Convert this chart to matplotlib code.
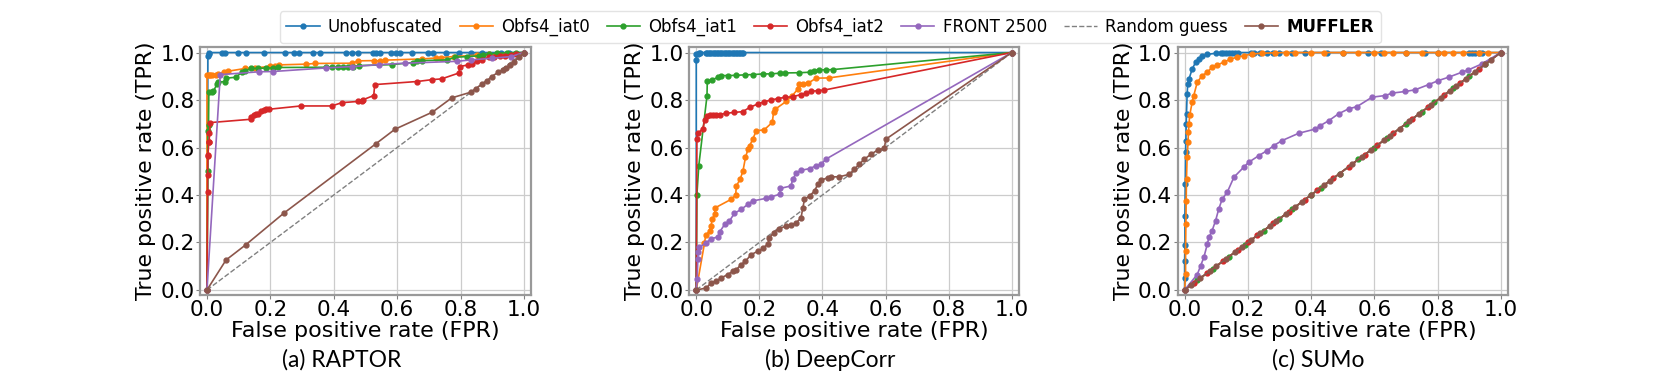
import matplotlib
matplotlib.use("Agg")
import matplotlib.pyplot as plt

# ---------------- data ----------------
labels = ["Unobfuscated", "Obfs4_iat0", "Obfs4_iat1", "Obfs4_iat2", "FRONT 2500", "Random guess", "MUFFLER"]
colors = ["#1f77b4", "#ff7f0e", "#2ca02c", "#d62728", "#9467bd", "gray", "#8c564b"]
captions = ["(a) RAPTOR", "(b) DeepCorr", "(c) SUMo"]
ticks = [0.0, 0.2, 0.4, 0.6, 0.8, 1.0]

# (a) RAPTOR
a_unobf_x = [0, 0.003, 0.005, 0.008, 0.047, 0.058, 0.098, 0.123, 0.179, 0.245, 0.275, 0.289, 0.334, 0.355, 0.437, 0.458, 0.477,
             0.524, 0.532, 0.547, 0.581, 0.595, 0.608, 0.647, 0.696, 0.713, 0.755, 0.795, 0.832, 0.868, 0.926, 0.953, 1.0]
a_unobf_y = [0, 0.985, 0.993, 1.0, 1.0, 1.0, 1.0, 1.0, 1.0, 1.0, 1.0, 1.0, 1.0, 1.0, 1.0, 1.0, 1.0,
             1.0, 1.0, 1.0, 1.0, 1.0, 1.0, 1.0, 1.0, 1.0, 1.0, 1.0, 1.0, 1.0, 1.0, 1.0, 1.0]
a_iat0_x = [0, 0, 0.005, 0.01, 0.016, 0.028, 0.035, 0.053, 0.065, 0.121, 0.153, 0.199, 0.214, 0.226, 0.311, 0.342, 0.458,
            0.476, 0.526, 0.547, 0.56, 0.679, 0.723, 0.737, 0.779, 0.853, 0.889, 0.947, 1.0]
a_iat0_y = [0, 0.906, 0.906, 0.906, 0.906, 0.906, 0.91, 0.917, 0.921, 0.933, 0.935, 0.942, 0.945, 0.948, 0.951, 0.954, 0.955,
            0.965, 0.966, 0.965, 0.968, 0.973, 0.977, 0.979, 0.983, 0.989, 0.992, 0.994, 1.0]
a_iat1_x = [0, 0.003, 0.003, 0.005, 0.006, 0.015, 0.02, 0.032, 0.034, 0.058, 0.06, 0.092, 0.111, 0.121, 0.14, 0.161, 0.186,
            0.207, 0.224, 0.376, 0.393, 0.412, 0.428, 0.445, 0.46, 0.479, 0.582, 0.649, 0.663, 0.679, 0.758, 0.782, 0.821,
            0.858, 0.871, 0.889, 0.916, 0.947, 0.974, 1.0]
a_iat1_y = [0, 0.501, 0.669, 0.694, 0.833, 0.835, 0.836, 0.868, 0.875, 0.878, 0.892, 0.896, 0.919, 0.924, 0.933, 0.933, 0.935,
            0.935, 0.937, 0.938, 0.938, 0.938, 0.938, 0.938, 0.94, 0.945, 0.949, 0.958, 0.966, 0.966, 0.969, 0.98, 0.983,
            0.986, 0.99, 0.994, 0.997, 0.999, 1.0, 1.0]
a_iat2_x = [0, 0.002, 0.002, 0.003, 0.003, 0.006, 0.007, 0.008, 0.011, 0.139, 0.139, 0.147, 0.155, 0.161, 0.172, 0.179, 0.187,
            0.195, 0.296, 0.393, 0.426, 0.477, 0.489, 0.492, 0.526, 0.529, 0.663, 0.711, 0.74, 0.795, 0.797, 0.824, 0.835,
            0.853, 0.866, 0.889, 0.905, 0.923, 0.94, 0.958, 0.974, 1.0]
a_iat2_y = [0, 0.412, 0.486, 0.563, 0.57, 0.622, 0.625, 0.662, 0.705, 0.719, 0.73, 0.739, 0.742, 0.742, 0.753, 0.758, 0.761,
            0.761, 0.775, 0.775, 0.789, 0.794, 0.795, 0.801, 0.819, 0.865, 0.878, 0.886, 0.889, 0.914, 0.941, 0.948, 0.952,
            0.966, 0.97, 0.98, 0.983, 0.987, 0.987, 0.99, 0.994, 1.0]
a_front_x = [0, 0.042, 0.165, 0.207, 0.374, 0.458, 0.542, 0.624, 0.789, 0.832, 0.9, 0.958, 1.0]
a_front_y = [0, 0.907, 0.919, 0.92, 0.935, 0.941, 0.949, 0.955, 0.963, 0.969, 0.976, 0.983, 1.0]
a_muff_x = [0, 0.06, 0.123, 0.242, 0.532, 0.593, 0.711, 0.772, 0.832, 0.847, 0.868, 0.884, 0.898, 0.919, 0.934, 0.942,
            0.955, 0.969, 0.984, 1.0]
a_muff_y = [0, 0.126, 0.191, 0.323, 0.615, 0.677, 0.749, 0.809, 0.833, 0.847, 0.868, 0.882, 0.899, 0.917, 0.928, 0.935,
            0.948, 0.962, 0.98, 1.0]

# (b) DeepCorr
b_unobf_x = [0, 0, 0.0, 0.005, 0.01, 0.012, 0.03, 0.035, 0.04, 0.045, 0.05, 0.055, 0.06, 0.065, 0.07, 0.075, 0.08, 0.085,
             0.09, 0.095, 0.1, 0.105, 0.11, 0.115, 0.12, 0.125, 0.13, 0.135, 0.14, 0.145, 0.148, 1.0]
b_unobf_y = [0, 0.968, 0.992, 0.995, 1.0, 1.0, 1.0, 1.0, 1.0, 1.0, 1.0, 1.0, 1.0, 1.0, 1.0, 1.0, 1.0, 1.0,
             1.0, 1.0, 1.0, 1.0, 1.0, 1.0, 1.0, 1.0, 1.0, 1.0, 1.0, 1.0, 1.0, 1.0]
b_iat0_x = [0, 0.026, 0.03, 0.042, 0.047, 0.05, 0.058, 0.06, 0.111, 0.125, 0.127, 0.139, 0.148, 0.156, 0.164, 0.169, 0.179,
            0.19, 0.216, 0.241, 0.245, 0.251, 0.285, 0.304, 0.322, 0.327, 0.338, 0.353, 0.38, 0.42, 1.0]
b_iat0_y = [0, 0.196, 0.231, 0.248, 0.269, 0.297, 0.318, 0.346, 0.382, 0.4, 0.438, 0.466, 0.501, 0.558, 0.593, 0.607, 0.635,
            0.67, 0.675, 0.706, 0.748, 0.762, 0.794, 0.818, 0.846, 0.868, 0.868, 0.87, 0.892, 0.893, 1.0]
b_iat1_x = [0, 0.002, 0.008, 0.034, 0.035, 0.05, 0.069, 0.079, 0.1, 0.127, 0.153, 0.179, 0.211, 0.237, 0.264, 0.28, 0.327,
            0.359, 0.374, 0.39, 0.411, 0.432, 1.0]
b_iat1_y = [0, 0.4, 0.523, 0.817, 0.879, 0.885, 0.896, 0.903, 0.903, 0.904, 0.906, 0.907, 0.91, 0.91, 0.913, 0.914, 0.915,
            0.917, 0.924, 0.927, 0.927, 0.928, 1.0]
b_iat2_x = [0, 0.002, 0.005, 0.021, 0.027, 0.034, 0.042, 0.053, 0.063, 0.074, 0.095, 0.121, 0.148, 0.169, 0.195, 0.216,
            0.237, 0.258, 0.28, 0.306, 0.332, 0.348, 0.364, 0.385, 0.406, 1.0]
b_iat2_y = [0, 0.634, 0.659, 0.68, 0.715, 0.734, 0.737, 0.738, 0.738, 0.739, 0.744, 0.748, 0.751, 0.769, 0.783, 0.793,
            0.8, 0.806, 0.811, 0.814, 0.823, 0.828, 0.837, 0.839, 0.842, 1.0]
b_front_x = [0, 0.003, 0.005, 0.006, 0.01, 0.032, 0.047, 0.069, 0.074, 0.09, 0.105, 0.121, 0.142, 0.164, 0.179, 0.222,
             0.237, 0.264, 0.267, 0.3, 0.306, 0.317, 0.332, 0.359, 0.38, 0.396, 0.411, 1.0]
b_front_y = [0, 0.046, 0.131, 0.161, 0.18, 0.199, 0.215, 0.224, 0.244, 0.276, 0.29, 0.323, 0.339, 0.361, 0.375, 0.386,
             0.392, 0.403, 0.428, 0.438, 0.466, 0.494, 0.504, 0.511, 0.523, 0.53, 0.551, 1.0]
b_muff_x = [0, 0.032, 0.047, 0.063, 0.079, 0.1, 0.116, 0.127, 0.142, 0.156, 0.174, 0.195, 0.211, 0.227, 0.232, 0.245,
            0.262, 0.285, 0.301, 0.317, 0.332, 0.338, 0.343, 0.359, 0.375, 0.385, 0.396, 0.417, 0.427, 0.454, 0.485,
            0.501, 0.517, 0.533, 0.554, 0.575, 0.596, 0.601, 1.0]
b_muff_y = [0, 0.008, 0.03, 0.037, 0.051, 0.065, 0.079, 0.085, 0.107, 0.121, 0.149, 0.163, 0.175, 0.194, 0.22, 0.241,
            0.258, 0.269, 0.273, 0.283, 0.304, 0.346, 0.382, 0.396, 0.417, 0.445, 0.462, 0.473, 0.476, 0.477, 0.487,
            0.508, 0.53, 0.551, 0.572, 0.589, 0.597, 0.635, 1.0]

# (c) SUMo
c_unobf_x = [0, 0.0, 0.0, 0.001, 0.001, 0.002, 0.003, 0.004, 0.005, 0.006, 0.008, 0.01, 0.014, 0.024, 0.035, 0.045, 0.056,
             0.072, 0.098, 0.114, 0.12, 0.13, 0.14, 0.15, 0.16, 0.17, 0.21, 0.22, 0.24, 0.26, 0.28, 0.3, 0.34, 0.38,
             0.45, 0.5, 0.58, 0.62, 0.7, 0.76, 0.8, 0.9, 0.91, 0.92, 0.93, 0.94, 1.0]
c_unobf_y = [0, 0.05, 0.12, 0.19, 0.313, 0.447, 0.58, 0.629, 0.7, 0.742, 0.826, 0.868, 0.889, 0.931, 0.959, 0.973, 0.985,
             0.992, 0.997, 1.0, 1.0, 1.0, 1.0, 1.0, 1.0, 1.0, 1.0, 1.0, 1.0, 1.0, 1.0, 1.0, 1.0, 1.0,
             1.0, 1.0, 1.0, 1.0, 1.0, 1.0, 1.0, 1.0, 1.0, 1.0, 1.0, 1.0, 1.0]
c_iat0_x = [0, 0.003, 0.003, 0.004, 0.005, 0.006, 0.008, 0.011, 0.012, 0.014, 0.016, 0.024, 0.029, 0.04, 0.056, 0.072,
            0.087, 0.103, 0.124, 0.145, 0.166, 0.187, 0.214, 0.245, 0.287, 0.32, 0.35, 0.4, 0.44, 0.5, 0.55, 0.6, 0.63,
            0.66, 0.7, 0.75, 0.8, 0.82, 0.85, 0.88, 0.93, 0.96, 1.0]
c_iat0_y = [0, 0.067, 0.166, 0.278, 0.376, 0.468, 0.562, 0.622, 0.664, 0.699, 0.735, 0.791, 0.819, 0.875, 0.903, 0.917,
            0.938, 0.948, 0.959, 0.973, 0.98, 0.987, 0.994, 0.997, 0.999, 1.0, 1.0, 1.0, 1.0, 1.0, 1.0, 1.0, 1.0,
            1.0, 1.0, 1.0, 1.0, 1.0, 1.0, 1.0, 1.0, 1.0, 1.0]
c_iat1_x = [0, 0.04, 0.09, 0.14, 0.19, 0.25, 0.3, 0.34, 0.4, 0.43, 0.49, 0.55, 0.6, 0.64, 0.7, 0.75, 0.79, 0.85, 0.9,
            0.95, 1.0]
c_iat1_y = [0, 0.04, 0.09, 0.14, 0.19, 0.25, 0.3, 0.34, 0.4, 0.43, 0.49, 0.55, 0.6, 0.64, 0.7, 0.75, 0.79, 0.85, 0.9,
            0.95, 1.0]
c_iat2_x = [0, 0.03, 0.07, 0.12, 0.17, 0.2, 0.23, 0.28, 0.33, 0.38, 0.42, 0.47, 0.52, 0.57, 0.61, 0.66, 0.72, 0.77, 0.82,
            0.87, 0.93, 1.0]
c_iat2_y = [0, 0.03, 0.07, 0.12, 0.17, 0.2, 0.23, 0.28, 0.33, 0.38, 0.42, 0.47, 0.52, 0.57, 0.61, 0.66, 0.72, 0.77, 0.82,
            0.87, 0.93, 1.0]
c_front_x = [0, 0.04, 0.051, 0.061, 0.072, 0.077, 0.087, 0.098, 0.108, 0.119, 0.135, 0.156, 0.187, 0.203, 0.235, 0.261,
             0.282, 0.308, 0.361, 0.414, 0.429, 0.456, 0.487, 0.519, 0.545, 0.593, 0.635, 0.656, 0.698, 0.729, 0.772,
             0.803, 0.835, 0.877, 0.898, 0.94, 1.0]
c_front_y = [0, 0.065, 0.103, 0.138, 0.194, 0.222, 0.25, 0.292, 0.341, 0.383, 0.412, 0.475, 0.517, 0.538, 0.566, 0.587,
             0.608, 0.629, 0.66, 0.678, 0.692, 0.713, 0.742, 0.763, 0.772, 0.812, 0.819, 0.829, 0.836, 0.843, 0.865,
             0.882, 0.896, 0.917, 0.927, 0.952, 1.0]
c_muff_x = [0, 0.02, 0.05, 0.08, 0.1, 0.13, 0.16, 0.18, 0.21, 0.24, 0.27, 0.29, 0.32, 0.35, 0.37, 0.4, 0.44, 0.46, 0.49,
            0.53, 0.56, 0.59, 0.63, 0.65, 0.68, 0.71, 0.74, 0.78, 0.81, 0.84, 0.86, 0.89, 0.92, 0.95, 0.97, 1.0]
c_muff_y = [0, 0.02, 0.05, 0.08, 0.1, 0.13, 0.16, 0.18, 0.21, 0.24, 0.27, 0.29, 0.32, 0.35, 0.37, 0.4, 0.44, 0.46, 0.49,
            0.53, 0.56, 0.59, 0.63, 0.65, 0.68, 0.71, 0.74, 0.78, 0.81, 0.84, 0.86, 0.89, 0.92, 0.95, 0.97, 1.0]

random_x = [0, 1]
random_y = [0, 1]

panels = [
    [(a_unobf_x, a_unobf_y), (a_iat0_x, a_iat0_y), (a_iat1_x, a_iat1_y), (a_iat2_x, a_iat2_y), (a_front_x, a_front_y),
     (random_x, random_y), (a_muff_x, a_muff_y)],
    [(b_unobf_x, b_unobf_y), (b_iat0_x, b_iat0_y), (b_iat1_x, b_iat1_y), (b_iat2_x, b_iat2_y), (b_front_x, b_front_y),
     (random_x, random_y), (b_muff_x, b_muff_y)],
    [(c_unobf_x, c_unobf_y), (c_iat0_x, c_iat0_y), (c_iat1_x, c_iat1_y), (c_iat2_x, c_iat2_y), (c_front_x, c_front_y),
     (random_x, random_y), (c_muff_x, c_muff_y)],
]

# ---------------- figure ----------------
plt.rcParams["font.family"] = ["DejaVu Sans"]
fig = plt.figure(figsize=(16.61, 3.74), dpi=100)
positions = [[0.1204, 0.212, 0.1993, 0.6615], [0.415, 0.212, 0.1983, 0.6615], [0.709, 0.212, 0.1987, 0.6615]]
cap_x = [0.206, 0.4997, 0.7935]

handles = None
for i, pos in enumerate(positions):
    ax = fig.add_axes(pos)
    hs = []
    for j, (xs, ys) in enumerate(panels[i]):
        if labels[j] == "Random guess":
            h, = ax.plot(xs, ys, linestyle="--", color=colors[j], linewidth=1.0, label=labels[j])
        else:
            h, = ax.plot(xs, ys, marker="o", markersize=3.5, linewidth=1.2, color=colors[j], label=labels[j])
        hs.append(h)
    if handles is None:
        handles = hs
    ax.set_xlim(-0.022, 1.022)
    ax.set_ylim(-0.02, 1.022)
    ax.set_xticks(ticks)
    ax.set_yticks(ticks)
    ax.tick_params(labelsize=15.5, length=3, pad=1, color="0.5")
    ax.set_xlabel("False positive rate (FPR)", fontsize=16, labelpad=0.5)
    ax.set_ylabel("True positive rate (TPR)", fontsize=15.8, labelpad=3)
    ax.grid(True, color="#cccccc", linewidth=0.9)
    ax.set_axisbelow(True)
    for s in ax.spines.values():
        s.set_color("#999999")
        s.set_linewidth(1.6)
    fig.text(cap_x[i], 0.0374, captions[i], fontsize=16.5, family="Lato", ha="center", va="center")

leg = fig.legend(handles, labels, loc="upper center", bbox_to_anchor=(0.4997, 0.992), ncol=7,
                 prop={"family": "DejaVu Sans", "size": 12},
                 frameon=True, fancybox=True, edgecolor="#dddddd", borderpad=0.4, handlelength=2.0,
                 columnspacing=1.0, handletextpad=0.5)
for t in leg.get_texts():
    if t.get_text() == "MUFFLER":
        t.set_fontweight("bold")

fig.savefig("out.png", dpi=100)
